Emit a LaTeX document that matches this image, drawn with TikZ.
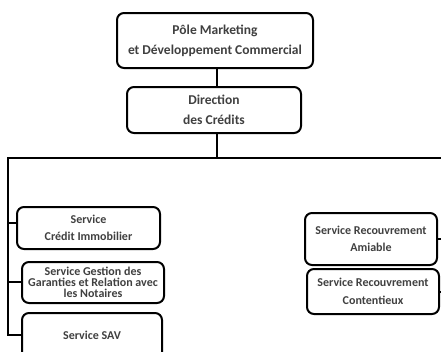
\documentclass[tikz,border=0pt]{standalone}
\usepackage{fontspec}
\setmainfont{Carlito}
\definecolor{txt}{gray}{0.25}
\begin{document}
\begin{tikzpicture}[x=1pt,y=-1pt,
  box/.style={draw=black,line width=2pt,rounded corners=7pt,fill=white,inner sep=0pt,align=center},
  big/.style={font=\bfseries\fontsize{13.5}{20}\selectfont\color{txt}},
  mid/.style={font=\bfseries\fontsize{12}{17.5}\selectfont\color{txt}},
  tight/.style={font=\bfseries\fontsize{12}{11}\selectfont\color{txt}},
  conn/.style={line width=2.6pt}]
\useasboundingbox (0,0) rectangle (441,351);
\begin{scope}
\clip (0,0) rectangle (441,351);
\node[box,big,minimum width=196pt,minimum height=55pt] (pole) at (215,40.5) {Pôle Marketing\\et Développement Commercial};
\node[box,big,minimum width=174pt,minimum height=46pt] (dir) at (214,110) {Direction\\des Crédits};
\coordinate (hL) at (8,158);
\coordinate (hM) at (217,158);
\coordinate (hR) at (445,158);
\node[box,mid,minimum width=143pt,minimum height=42pt] (ci) at (88.5,228) {Service\\Crédit Immobilier};
\node[box,tight,minimum width=142pt,minimum height=41pt] (gar) at (93,282.5) {Service Gestion des\\Garanties et Relation avec\\les Notaires};
\node[box,mid,minimum width=140pt,minimum height=50pt] (sav) at (92,338) {\raisebox{5pt}{Service SAV}};
\node[box,mid,minimum width=132pt,minimum height=52pt] (ami) at (371,239) {Service Recouvrement\\Amiable};
\node[box,mid,minimum width=132pt,minimum height=45pt] (cont) at (373,291.5) {Service Recouvrement\\Contentieux};
\coordinate (rA) at (445,239);
\coordinate (rC) at (445,292);
\draw[conn] (pole.south -| hM) -- (dir.north -| hM);
\draw[conn] (dir.south -| hM) -- (hM);
\draw[conn] (hR) -- (hL) -- (8,335) -- (sav.west |- 0,335);
\draw[conn] (8,223) -- (ci.west |- 0,223);
\draw[conn] (8,282) -- (gar.west |- 0,282);
\draw[conn] (ami.east |- rA) -- (rA);
\draw[conn] (cont.east |- rC) -- (rC);
\end{scope}
\end{tikzpicture}
\end{document}
